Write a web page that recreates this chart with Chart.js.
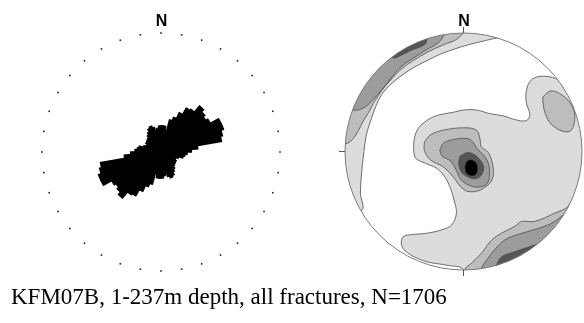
<!DOCTYPE html>
<html>
<head>
<meta charset="utf-8">
<script src="https://cdn.jsdelivr.net/npm/chart.js@4/dist/chart.umd.min.js"></script>
<style>
  html, body { margin: 0; padding: 0; background: #fff; }
  body { width: 584px; height: 323px; position: relative; overflow: hidden; }
  #rose { position: absolute; left: 0; top: 0; }
  #net { position: absolute; left: 300px; top: 0; }
  #caption {
    position: absolute; left: 11px; top: 284px;
    font: 23px/26px "Liberation Serif", "Times New Roman", serif;
    color: #000; white-space: nowrap;
  }
</style>
</head>
<body>
<canvas id="rose" width="300" height="285"></canvas>
<canvas id="net" width="284" height="285"></canvas>
<div id="caption">KFM07B, 1-237m depth, all fractures, N=1706</div>
<script>
// ---- Rose diagram: strike frequencies in 5-degree bins (0-175), bidirectional ----
const binStarts = [0, 5, 10, 15, 20, 25, 30, 35, 40, 45, 50, 55, 60, 65, 70, 75, 80, 85,
                   90, 95, 100, 105, 110, 115, 120, 125, 130, 135, 140, 145, 150, 155, 160, 165, 170, 175];
const strikeCounts = [36, 36, 31, 46, 51, 60, 70, 72, 83, 79, 76, 79, 92, 92, 88, 85, 51, 42,
                      36, 33, 31, 25, 22, 21, 24, 24, 25, 26, 29, 32, 36, 38, 35, 31, 33, 36];
const roseMax = 165;          // radius of the dotted outer ring, in counts
const ringStep = 10;          // dotted ring: one dot every 10 degrees
const northLabel = 'N';

// Strikes are axial: each bin also appears 180 degrees opposite
const roseLabels = binStarts.concat(binStarts.map(b => b + 180));
const roseValues = strikeCounts.concat(strikeCounts);

const roseFrame = {
  id: 'roseFrame',
  afterDraw(chart) {
    const {ctx} = chart;
    const r = chart.scales.r;
    const perBin = 360 / roseLabels.length;
    ctx.save();
    ctx.fillStyle = '#222';
    for (let a = 0; a < 360; a += ringStep) {
      const p = r.getPointPosition(a / perBin, r.drawingArea);
      ctx.fillRect(p.x - 0.8, p.y - 0.8, 1.6, 1.6);
    }
    ctx.fillStyle = '#000';
    ctx.font = 'bold 16px "Liberation Sans", Arial, sans-serif';
    ctx.textAlign = 'center';
    ctx.textBaseline = 'alphabetic';
    ctx.fillText(northLabel, r.xCenter + 0.5, r.yCenter - r.drawingArea - 7);
    ctx.restore();
  }
};

new Chart(document.getElementById('rose'), {
  type: 'polarArea',
  data: {
    labels: roseLabels,
    datasets: [{
      data: roseValues,
      backgroundColor: '#000',
      borderColor: '#000',
      borderWidth: 1.6,
      borderJoinStyle: 'miter'
    }]
  },
  options: {
    responsive: false,
    animation: false,
    events: [],
    layout: { padding: { left: 42, top: 33, right: 20, bottom: 14 } },
    plugins: { legend: { display: false }, tooltip: { enabled: false } },
    scales: {
      r: {
        min: 0, max: roseMax,
        ticks: { display: false },
        grid: { display: false },
        angleLines: { display: false },
        pointLabels: { display: false }
      }
    }
  },
  plugins: [roseFrame]
});

// ---- Pole density net (unit circle, x = east, y = north) ----
// Contour polygons; vertices beyond the primitive circle are clipped away.
const netL1West = [[0.29,0.96],[0.20,0.94],[0.04,0.90],[-0.09,0.86],[-0.20,0.82],[-0.30,0.77],
  [-0.40,0.72],[-0.51,0.65],[-0.61,0.57],[-0.69,0.48],[-0.74,0.38],[-0.78,0.27],[-0.82,0.14],
  [-0.84,0.00],[-0.86,-0.18],[-0.87,-0.35],[-0.86,-0.50],[-1.2,-0.6],[-1.3,0],[-1.0,1.0],[0,1.3],[0.45,1.1]];
const netL1Centre = [[0.82,0.60],[0.73,0.63],[0.62,0.63],[0.56,0.59],[0.53,0.51],[0.53,0.41],
  [0.56,0.31],[0.53,0.26],[0.43,0.27],[0.34,0.30],[0.22,0.32],[0.11,0.35],[0.00,0.35],[-0.09,0.33],
  [-0.20,0.31],[-0.28,0.28],[-0.37,0.21],[-0.41,0.13],[-0.42,0.01],[-0.40,-0.06],[-0.32,-0.10],
  [-0.23,-0.14],[-0.16,-0.21],[-0.11,-0.31],[-0.08,-0.41],[-0.06,-0.52],[-0.10,-0.62],[-0.18,-0.66],
  [-0.31,-0.69],[-0.42,-0.70],[-0.51,-0.72],[-0.52,-0.80],[-0.45,-0.87],[-0.31,-0.93],[-0.14,-0.96],
  [0.00,-1.00],[0.0,-1.3],[1.3,-1.3],[1.3,0.9],[0.9,0.8]];
const netL2West = [[0.00,1.0],[-0.06,0.945],[-0.17,0.90],[-0.30,0.84],[-0.42,0.77],[-0.52,0.70],
  [-0.60,0.62],[-0.67,0.54],[-0.72,0.47],[-0.76,0.41],[-0.80,0.33],[-0.85,0.25],[-0.89,0.17],
  [-0.93,0.11],[-0.98,0.07],[-1.3,0.0],[-1.2,1.0],[0.0,1.3],[0.1,1.2]];
const netL2East = [[0.67,0.46],[0.73,0.51],[0.81,0.49],[0.90,0.41],[0.94,0.30],[0.91,0.18],
  [0.84,0.17],[0.74,0.23],[0.69,0.32],[0.67,0.42]];
const netL2Centre = [[-0.33,0.08],[-0.28,0.14],[-0.17,0.18],[0.00,0.20],[0.11,0.18],[0.14,0.10],
  [0.15,0.04],[0.21,-0.01],[0.25,-0.13],[0.24,-0.24],[0.17,-0.31],[0.08,-0.34],[0.00,-0.32],
  [-0.09,-0.21],[-0.17,-0.13],[-0.28,-0.07],[-0.33,0.01]];
const netL2South = [[0.98,-0.25],[0.885,-0.46],[0.77,-0.52],[0.60,-0.59],[0.49,-0.59],[0.435,-0.63],
  [0.32,-0.69],[0.24,-0.745],[0.15,-0.86],[0.07,-0.94],[0.01,-1.0],[0.0,-1.3],[1.3,-1.3],[1.3,-0.3]];
const netL3West = [[-0.16,0.99],[-0.21,0.92],[-0.31,0.86],[-0.42,0.79],[-0.51,0.73],[-0.58,0.66],
  [-0.64,0.58],[-0.70,0.51],[-0.76,0.44],[-0.81,0.39],[-0.86,0.36],[-0.93,0.35],[-1.3,0.5],[-0.5,1.3]];
const netL3Centre = [[-0.20,0.01],[-0.17,0.07],[-0.09,0.10],[0.03,0.11],[0.08,0.08],[0.11,0.03],
  [0.17,-0.03],[0.21,-0.10],[0.22,-0.18],[0.20,-0.27],[0.13,-0.30],[0.06,-0.29],[-0.02,-0.24],
  [-0.06,-0.16],[-0.11,-0.08],[-0.18,-0.04]];
const netL3South = [[0.90,-0.48],[0.77,-0.59],[0.63,-0.65],[0.46,-0.70],[0.35,-0.745],[0.27,-0.82],
  [0.20,-0.91],[0.15,-1.0],[0.2,-1.3],[1.3,-1.3],[1.3,-0.5]];
const netL4West = [[-0.30,0.96],[-0.33,0.90],[-0.44,0.855],[-0.53,0.81],[-0.59,0.79],[-0.65,0.85],[-0.35,1.05]];
const netL4Centre = [[-0.03,-0.04],[0.03,-0.01],[0.08,-0.02],[0.13,-0.06],[0.17,-0.13],[0.15,-0.20],
  [0.10,-0.23],[0.03,-0.21],[-0.02,-0.17],[-0.04,-0.10]];
const netL4South = [[0.27,-0.97],[0.32,-0.89],[0.42,-0.85],[0.54,-0.81],[0.63,-0.79],[0.85,-0.9],[0.4,-1.2]];
const netL5Centre = [[0.01,-0.13],[0.03,-0.08],[0.07,-0.07],[0.11,-0.10],[0.12,-0.155],[0.10,-0.20],
  [0.055,-0.205],[0.02,-0.18]];

const contourLevels = [
  { shade: '#dcdcdc', polygons: [netL1West, netL1Centre] },
  { shade: '#bdbdbd', polygons: [netL2West, netL2East, netL2Centre, netL2South] },
  { shade: '#9c9c9c', polygons: [netL3West, netL3Centre, netL3South] },
  { shade: '#555555', polygons: [netL4West, netL4Centre, netL4South] },
  { shade: '#000000', polygons: [netL5Centre] }
];

const netDatasets = [];
contourLevels.forEach((level, li) => {
  level.polygons.forEach(poly => {
    const pts = poly.map(([x, y]) => ({ x, y }));
    pts.push({ ...pts[0] });
    netDatasets.push({
      data: pts,
      showLine: true,
      fill: 'shape',
      backgroundColor: level.shade,
      borderColor: '#4d4d4d',
      borderWidth: 0.8,
      pointRadius: 0,
      tension: 0.35,
      order: 10 - li
    });
  });
});

function netGeometry(chart) {
  const xs = chart.scales.x, ys = chart.scales.y;
  const cx = xs.getPixelForValue(0), cy = ys.getPixelForValue(0);
  return { cx, cy, r: xs.getPixelForValue(1) - cx };
}

const netFrame = {
  id: 'netFrame',
  beforeDatasetsDraw(chart) {
    const { ctx } = chart;
    const g = netGeometry(chart);
    ctx.save();
    ctx.beginPath();
    ctx.arc(g.cx, g.cy, g.r, 0, Math.PI * 2);
    ctx.clip();
  },
  afterDatasetsDraw(chart) {
    const { ctx } = chart;
    ctx.restore();
    const g = netGeometry(chart);
    ctx.save();
    ctx.strokeStyle = '#7a7a7a';
    ctx.lineWidth = 1;
    ctx.beginPath();
    ctx.arc(g.cx, g.cy, g.r, 0, Math.PI * 2);
    ctx.stroke();
    ctx.strokeStyle = '#555';
    ctx.beginPath();
    ctx.moveTo(g.cx, g.cy - g.r - 6); ctx.lineTo(g.cx, g.cy - g.r);
    ctx.moveTo(g.cx, g.cy + g.r); ctx.lineTo(g.cx, g.cy + g.r + 6);
    ctx.moveTo(g.cx - g.r - 6, g.cy); ctx.lineTo(g.cx - g.r, g.cy);
    ctx.stroke();
    ctx.fillStyle = '#000';
    ctx.font = 'bold 16px "Liberation Sans", Arial, sans-serif';
    ctx.textAlign = 'center';
    ctx.textBaseline = 'alphabetic';
    ctx.fillText(northLabel, g.cx + 0.5, g.cy - g.r - 7);
    ctx.restore();
  }
};

new Chart(document.getElementById('net'), {
  type: 'scatter',
  data: { datasets: netDatasets },
  options: {
    responsive: false,
    animation: false,
    events: [],
    layout: { padding: { left: 45, top: 33, right: 2, bottom: 15 } },
    plugins: { legend: { display: false }, tooltip: { enabled: false } },
    scales: {
      x: { type: 'linear', min: -1, max: 1, display: false },
      y: { type: 'linear', min: -1, max: 1, display: false }
    }
  },
  plugins: [netFrame]
});
</script>
</body>
</html>
